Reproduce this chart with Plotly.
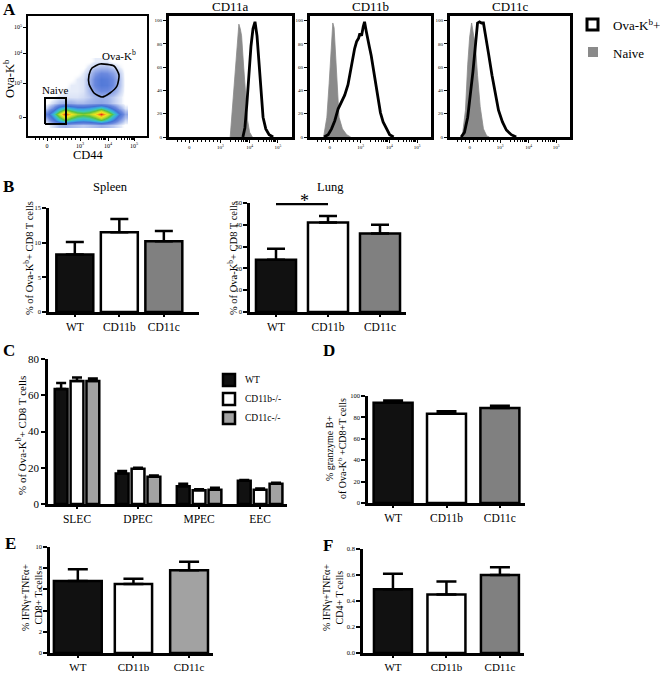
import plotly.graph_objects as go

W, H = 660, 674
SERIF = "Liberation Serif"

# ---------------- data ----------------
# Panel A: flow density (display units on biexponential axes)
flow_x = [0, 6, 12, 18, 24, 30, 36, 42, 48, 54, 60, 66, 72, 78]
flow_y = [-8, -3, 3, 9, 14, 20, 26, 32, 38, 44, 50, 56]
flow_density = [
    [0, 0.4, 0.8, 1.0, 0.8, 0.7, 0.6, 0.7, 0.8, 1.0, 0.8, 0.6, 0.3, 0],
    [0.8, 2.5, 4.5, 6.0, 5.0, 4.3, 4.0, 4.3, 5.0, 6.0, 4.8, 3.2, 1.6, 0.5],
    [2.2, 4.5, 7.2, 9.8, 8.0, 6.8, 6.4, 6.8, 8.0, 9.8, 7.8, 5.5, 3.2, 1.2],
    [0.6, 1.8, 3.8, 5.0, 4.2, 3.6, 3.5, 3.8, 4.4, 5.2, 4.0, 2.6, 1.2, 0.3],
    [0, 0.4, 0.8, 1.0, 1.0, 0.8, 0.8, 1.0, 1.1, 1.2, 1.0, 0.6, 0.3, 0],
    [0, 0, 0.3, 0.3, 0.3, 0.3, 0.4, 0.6, 0.9, 1.0, 0.9, 0.6, 0.3, 0],
    [0, 0, 0, 0.2, 0.2, 0.2, 0.3, 0.8, 1.4, 1.8, 1.7, 1.3, 0.6, 0],
    [0, 0, 0, 0, 0.2, 0.2, 0.3, 0.9, 1.9, 2.5, 2.4, 1.7, 0.8, 0],
    [0, 0, 0, 0, 0, 0.2, 0.3, 0.9, 1.9, 2.5, 2.3, 1.7, 0.8, 0],
    [0, 0, 0, 0, 0, 0, 0.2, 0.6, 1.4, 1.8, 1.7, 1.3, 0.6, 0],
    [0, 0, 0, 0, 0, 0, 0, 0.3, 0.6, 0.8, 0.8, 0.5, 0.2, 0],
    [0, 0, 0, 0, 0, 0, 0, 0, 0.2, 0.2, 0.2, 0, 0, 0],
]
flow_xticks = [0, 33, 61, 87]
flow_yticks = [0, 34, 64, 90]
decade_labels = ["0", "10<sup>3</sup>", "10<sup>4</sup>", "10<sup>5</sup>"]
minor_ticks = [-12, -8, -4, 4, 8, 12, 16, 20, 24, 28, 41, 46, 49, 52, 54, 56, 57, 58, 69, 74, 77, 80, 82, 84, 85, 86]
naive_gate_x = [-2, 19, 19, -2, -2]
naive_gate_y = [-7, -7, 19, 19, -7]
ova_gate_x = [45, 53, 67, 72, 70, 63, 55, 47, 42, 42, 45]
ova_gate_y = [49, 53, 51, 42, 31, 24, 20, 24, 33, 42, 49]

# Panel A: histograms (x in display units, y in % of max)
hist_ticks = [0, 31, 60, 88]
hist_yticks = [0, 20, 40, 60, 80, 100]
cd11a_naive_x = [40.7, 42.7, 45, 47.3, 49.3, 50.7, 52, 54, 56, 58, 60, 62.7]
cd11a_naive_y = [0, 23, 52, 78, 97, 93, 87, 61, 34, 14, 4, 0]
cd11a_ova_x = [53.3, 55.3, 57.3, 59.3, 61.3, 63.3, 65.3, 67.3, 69.3, 71.3, 73.3, 76, 79.3, 83.3]
cd11a_ova_y = [0, 8, 29, 55, 78, 93, 99, 87, 61, 34, 17, 7, 2, 0]
cd11b_naive_x = [-6.3, -3, -0.7, 1, 3, 4.3, 6, 7.7, 9.3, 12.7, 17, 21]
cd11b_naive_y = [0, 17, 46, 76, 98, 94, 67, 38, 17, 7, 2, 0]
cd11b_ova_x = [-5.7, -1.7, 1.7, 5, 8.3, 11.7, 15, 18.3, 21, 23, 25, 27, 29, 30.3, 32, 33.7, 35,
               36.7, 38.3, 40, 41.7, 43.3, 45, 47, 49, 51, 53.7, 57, 60.3, 64.3]
cd11b_ova_y = [0, 2, 7, 14, 24, 30, 36, 45, 57, 69, 76, 82, 85, 89, 87, 95, 99,
               91, 83, 77, 70, 61, 52, 41, 32, 21, 13, 7, 2, 0]
cd11c_naive_x = [-7.6, -4.3, -2, 0, 2, 4, 6, 8, 10.7, 14, 17.3, 20]
cd11c_naive_y = [0, 23, 62, 86, 98, 89, 77, 53, 26, 7, 1, 0]
cd11c_ova_x = [-8.7, -5.3, -2, 0.7, 3.3, 6, 8, 10, 12, 14, 16, 19.3, 22.7, 26, 29.3, 33.3, 37.3, 42.3, 47.3]
cd11c_ova_y = [0, 4, 17, 35, 56, 80, 98, 99, 98, 98, 89, 71, 53, 37, 23, 13, 6, 2, 0]

# Panels B-F
groups = ["WT", "CD11b", "CD11c"]
spleen_mean = [8.3, 11.5, 10.2]
spleen_err = [1.8, 1.9, 1.5]
lung_mean = [24, 41, 36]
lung_err = [5, 3, 4]
sig_y = 49.5
subsets = ["SLEC", "DPEC", "MPEC", "EEC"]
c_wt = [63.5, 16.8, 9.8, 12.8]
c_wt_err = [3.2, 1.4, 1.4, 0.4]
c_cd11b = [67.8, 19.5, 7.6, 7.9]
c_cd11b_err = [2.0, 0.5, 0.6, 0.6]
c_cd11c = [67.8, 15.0, 7.9, 11.2]
c_cd11c_err = [1.5, 0.7, 1.0, 0.5]
c_names = ["WT", "CD11b-/-", "CD11c-/-"]
gzmb_mean = [93.8, 83.3, 88.8]
gzmb_err = [2.0, 2.5, 2.0]
cd8_mean = [6.8, 6.5, 7.8]
cd8_err = [1.1, 0.5, 0.8]
cd4_mean = [0.49, 0.45, 0.60]
cd4_err = [0.12, 0.10, 0.06]

BLACK = "#111111"
GRAY = "#808080"
LGRAY = "#a2a2a2"
bar_colors = [BLACK, "white", GRAY]
bar_colors_e = [BLACK, "white", LGRAY]

# ---------------- helpers ----------------
def dx(l, r):
    return [l / W, r / W]

def dy(t, b):
    return [1 - b / H, 1 - t / H]

def axis(**kw):
    d = dict(showline=True, linecolor="black", ticks="outside", tickcolor="black",
             showgrid=False, zeroline=False, fixedrange=True, automargin=False,
             tickfont=dict(family=SERIF, size=6.5, color="black"))
    d.update(kw)
    return d

def ann(text, x, y, size, angle=0, xanchor="center", yanchor="middle"):
    return dict(text=text, x=x / W, y=1 - y / H, xref="paper", yref="paper",
                showarrow=False, textangle=angle, xanchor=xanchor, yanchor=yanchor,
                font=dict(family=SERIF, size=size, color="black"))

fig = go.Figure()
layout = {}

# ---------------- Panel A: flow plot ----------------
flow_colors = [[0, "rgba(255,255,255,0)"], [0.02, "#e6ecf9"], [0.08, "#a9bbec"],
               [0.18, "#6a88de"], [0.3, "#4470d4"], [0.4, "#39a6e2"], [0.5, "#3cc8b4"],
               [0.6, "#5cc23c"], [0.7, "#b9d92a"], [0.8, "#f2e41c"], [0.9, "#f58a1c"],
               [1.0, "#e0161a"]]
fig.add_trace(go.Heatmap(x=flow_x, y=flow_y, z=flow_density, zmin=0, zmax=10, zsmooth="best",
                         colorscale=flow_colors, showscale=False, hoverinfo="skip",
                         xaxis="x", yaxis="y"))
fig.add_trace(go.Scatter(x=naive_gate_x, y=naive_gate_y, mode="lines",
                         line=dict(color="black", width=2), xaxis="x", yaxis="y"))
fig.add_trace(go.Scatter(x=ova_gate_x, y=ova_gate_y, mode="lines",
                         line=dict(color="black", width=1.6, shape="spline", smoothing=0.6),
                         xaxis="x", yaxis="y"))
layout["xaxis"] = axis(domain=dx(28, 147), range=[-19, 100], anchor="y", mirror=True, linewidth=1.6,
                       tickvals=flow_xticks, ticktext=decade_labels, ticklen=3, tickwidth=1,
                       tickfont=dict(family=SERIF, size=6, color="black"),
                       minor=dict(tickmode="array", tickvals=minor_ticks, ticks="outside", ticklen=2,
                                  tickcolor="black", tickwidth=1))
layout["yaxis"] = axis(domain=dy(16, 136), range=[-19, 101], anchor="x", mirror=True, linewidth=1.6,
                       tickvals=flow_yticks, ticktext=decade_labels, ticklen=3, tickwidth=1,
                       tickfont=dict(family=SERIF, size=6, color="black"))

# ---------------- Panel A: histograms ----------------
hists = [
    ("CD11a", cd11a_naive_x, cd11a_naive_y, cd11a_ova_x, cd11a_ova_y, (169, 292)),
    ("CD11b", cd11b_naive_x, cd11b_naive_y, cd11b_ova_x, cd11b_ova_y, (310, 431)),
    ("CD11c", cd11c_naive_x, cd11c_naive_y, cd11c_ova_x, cd11c_ova_y, (450, 570)),
]
annotations = []
for i, (title, nx, ny, ox, oy, (l, r)) in enumerate(hists):
    n = i + 2
    xa, ya = f"x{n}", f"y{n}"
    fig.add_trace(go.Scatter(x=nx, y=ny, mode="lines", fill="tozeroy", fillcolor="#8a8a8a",
                             line=dict(color="#8a8a8a", width=0.8), xaxis=xa, yaxis=ya))
    fig.add_trace(go.Scatter(x=ox, y=oy, mode="lines", line=dict(color="black", width=2.8),
                             xaxis=xa, yaxis=ya))
    layout[f"xaxis{n}"] = axis(domain=dx(l, r), range=[-20, 102], anchor=ya, mirror=True, linewidth=3,
                               tickvals=hist_ticks, ticktext=decade_labels, ticklen=3, tickwidth=1,
                               tickfont=dict(family=SERIF, size=5, color="black"),
                               minor=dict(tickmode="array", tickvals=minor_ticks, ticks="outside",
                                          ticklen=2, tickcolor="black", tickwidth=1))
    layout[f"yaxis{n}"] = axis(domain=dy(16, 137), range=[0, 104], anchor=xa, mirror=True, linewidth=3,
                               tickvals=hist_yticks, ticklen=3, tickwidth=1,
                               tickfont=dict(family=SERIF, size=5, color="black"))
    annotations.append(ann(title, (l + r) / 2, 7, 13))

# ---------------- bar panels ----------------
def bar_panel(n, cats, means, errs, colors, xl, xr, yt, yb, xrange, ymax, yticks,
              width, capw, tickformat=None, catsize=11.5):
    xa, ya = f"x{n}", f"y{n}"
    fig.add_trace(go.Bar(x=cats, y=means, width=width, marker=dict(color=colors, line=dict(color="black", width=2.5)),
                         error_y=dict(type="data", array=errs, arrayminus=[0] * len(errs), symmetric=False,
                                      thickness=2.5, width=capw, color="black"),
                         xaxis=xa, yaxis=ya))
    layout[f"xaxis{n}"] = axis(domain=dx(xl, xr), range=xrange, anchor=ya, type="category", linewidth=2.5,
                               ticklen=2, tickwidth=2, tickfont=dict(family=SERIF, size=catsize, color="black"))
    yd = axis(domain=dy(yt, yb), range=[0, ymax], anchor=xa, linewidth=2.5, tickvals=yticks,
              ticklen=4, tickwidth=2, tickfont=dict(family=SERIF, size=6.5, color="black"))
    if tickformat:
        yd["tickformat"] = tickformat
    layout[f"yaxis{n}"] = yd

bar_panel(5, groups, spleen_mean, spleen_err, bar_colors, 49, 199, 208, 312, [-0.58, 2.79], 15,
          [0, 5, 10, 15], 0.83, 9)
bar_panel(6, groups, lung_mean, lung_err, bar_colors, 250, 406, 203, 312, [-0.5, 2.5], 50,
          [0, 10, 20, 30, 40, 50], 0.77, 9)
bar_panel(8, groups, gzmb_mean, gzmb_err, bar_colors, 368, 525, 396, 503, [-0.47, 2.47], 100,
          [0, 20, 40, 60, 80, 100], 0.73, 10)
bar_panel(9, groups, cd8_mean, cd8_err, bar_colors_e, 50, 213, 547, 653, [-0.5, 2.43], 10,
          [0, 2, 4, 6, 8, 10], [0.86, 0.67, 0.68], 10, catsize=11)
bar_panel(10, groups, cd4_mean, cd4_err, bar_colors, 363, 524, 549, 653, [-0.56, 2.45], 0.8,
          [0, 0.2, 0.4, 0.6, 0.8], 0.71, 10, tickformat=".1f", catsize=11)

# significance bracket on lung
fig.add_trace(go.Scatter(x=[groups[0], groups[1]], y=[sig_y, sig_y], mode="lines",
                         line=dict(color="black", width=2.5), xaxis="x6", yaxis="y6", cliponaxis=False))
annotations.append(dict(text="*", x=0.55, y=sig_y, xref="x6", yref="y6", showarrow=False,
                        yanchor="bottom", yshift=-9, font=dict(family=SERIF, size=18, color="black")))

# Panel C grouped bars
c_sets = [(c_wt, c_wt_err, BLACK, -0.365), (c_cd11b, c_cd11b_err, "white", -0.105),
          (c_cd11c, c_cd11c_err, LGRAY, 0.155)]
for (vals, errs, col, off), name in zip(c_sets, c_names):
    fig.add_trace(go.Bar(x=subsets, y=vals, width=0.21, offset=off, name=name,
                         marker=dict(color=col, line=dict(color="black", width=2.5)),
                         error_y=dict(type="data", array=errs, arrayminus=[0] * 4, symmetric=False,
                                      thickness=2.5, width=5, color="black"),
                         xaxis="x7", yaxis="y7"))
layout["xaxis7"] = axis(domain=dx(48, 287), range=[-0.475, 3.44], anchor="y7", type="category",
                        linewidth=2.5, ticklen=2, tickwidth=2,
                        tickfont=dict(family=SERIF, size=11.5, color="black"))
layout["yaxis7"] = axis(domain=dy(359, 504), range=[0, 80], anchor="x7", linewidth=2.5,
                        tickvals=[0, 20, 40, 60, 80], ticklen=4, tickwidth=2,
                        tickfont=dict(family=SERIF, size=11, color="black"))

# ---------------- text annotations ----------------
annotations += [
    ann("<b>A</b>", 9, 10, 17), ann("<b>B</b>", 8, 186, 17), ann("<b>C</b>", 9, 350, 17),
    ann("<b>D</b>", 329, 350, 17), ann("<b>E</b>", 10, 543, 17), ann("<b>F</b>", 328, 545, 17),
    ann("Ova-K<sup>b</sup>", 9, 79, 12.5, angle=-90),
    ann("CD44", 88, 155, 12.5),
    ann("Ova-K<sup>b</sup>+", 611, 25, 13, xanchor="left"),
    ann("Naive", 611, 53, 13, xanchor="left"),
    ann("Spleen", 110, 187, 12.5),
    ann("Lung", 331, 187, 12.5),
    ann("% of Ova-K<sup>b</sup>+ CD8 T cells", 28, 258, 10.5, angle=-90),
    ann("% of Ova-K<sup>b</sup>+ CD8 T cells", 232, 258, 10.5, angle=-90),
    ann("% of Ova-K<sup>b</sup>+ CD8 T cells", 21, 436, 11, angle=-90),
    ann("% granzyme B+<br>of Ova-K<sup>b</sup> +CD8+T cells", 336, 448, 10, angle=-90),
    ann("% IFNγ+TNFα+<br>CD8+ T cells", 32, 598, 10, angle=-90),
    ann("% IFNγ+TNFα+<br>CD4+ T cells", 333, 598, 10, angle=-90),
    ann("WT", 243, 380, 9.5, xanchor="left"),
    ann("CD11b-/-", 243, 399, 9.5, xanchor="left"),
    ann("CD11c-/-", 243, 418, 9.5, xanchor="left"),
    dict(text="Naive", x=8, y=27, xref="x", yref="y", showarrow=False,
         font=dict(family=SERIF, size=11, color="black")),
    dict(text="Ova-K<sup>b</sup>", x=72, y=62, xref="x", yref="y", showarrow=False,
         font=dict(family=SERIF, size=11, color="black")),
]

def sq(l, t, s, fill, lw):
    return dict(type="rect", xref="paper", yref="paper", x0=l / W, x1=(l + s) / W,
                y0=1 - (t + s) / H, y1=1 - t / H, fillcolor=fill,
                line=dict(color="black" if lw > 0 else fill, width=lw))

shapes = [
    sq(587, 19, 11, "white", 3),
    sq(588, 47, 10, "#8a8a8a", 0),
    sq(223, 374, 12, BLACK, 2.5),
    sq(223, 393, 12, "white", 2.5),
    sq(223, 412, 12, LGRAY, 2.5),
]

fig.update_layout(
    width=W, height=H, autosize=False, margin=dict(l=0, r=0, t=0, b=0),
    paper_bgcolor="white", plot_bgcolor="white", showlegend=False,
    barmode="overlay", font=dict(family=SERIF, color="black"),
    annotations=annotations, shapes=shapes, **layout,
)

fig.write_html("out.html", config={"responsive": False, "displayModeBar": False},
               post_script="document.body.style.margin='0px';document.body.style.padding='0px';"
                           "document.body.style.overflow='hidden';")
